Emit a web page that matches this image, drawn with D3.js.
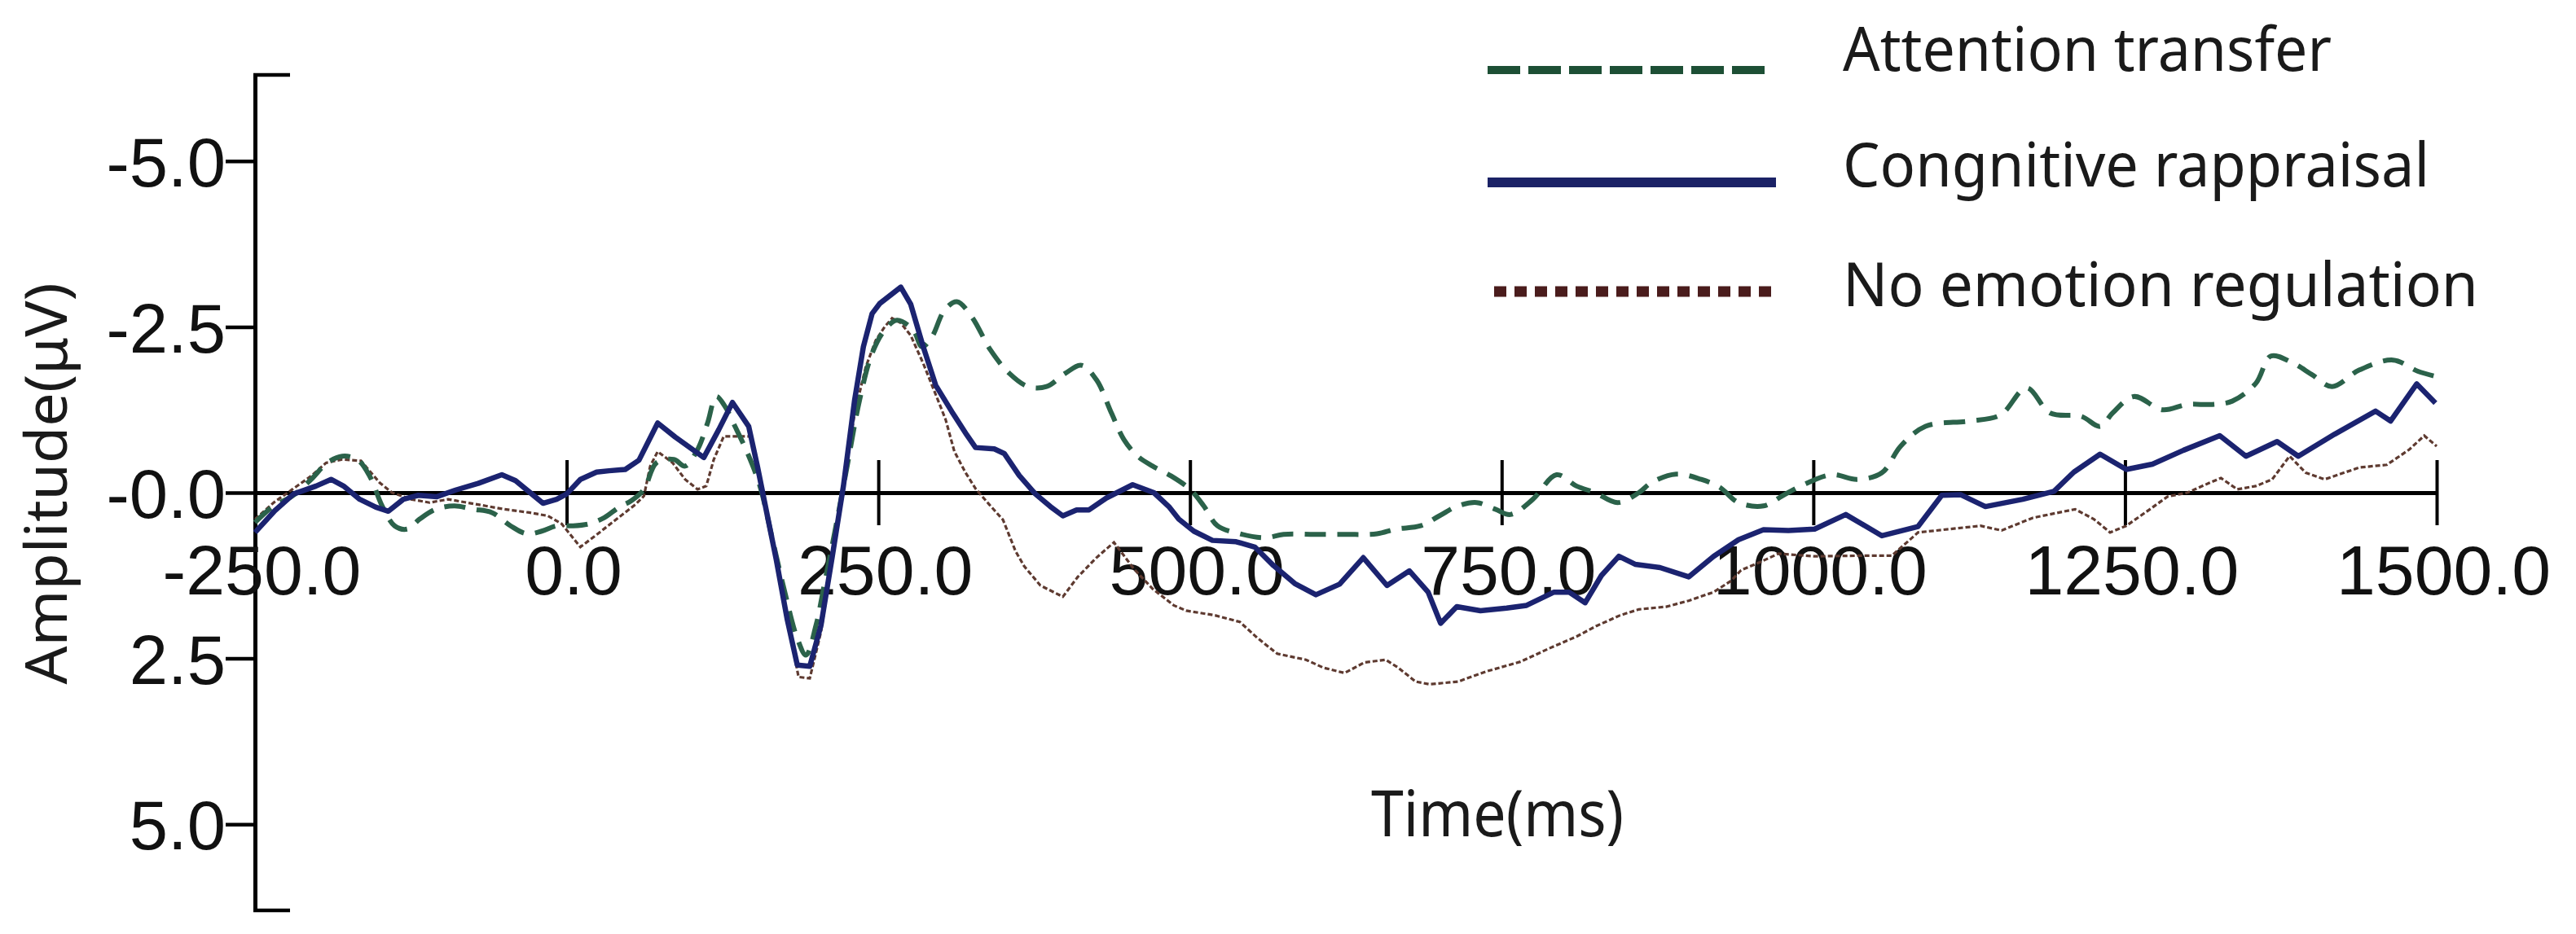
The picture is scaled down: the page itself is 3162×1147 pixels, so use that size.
<!DOCTYPE html>
<html>
<head>
<meta charset="utf-8">
<script src="https://cdn.jsdelivr.net/npm/d3@7/dist/d3.min.js"></script>
<style>
html, body { margin: 0; padding: 0; background: #ffffff; }
svg { display: block; }
</style>
</head>
<body>
<svg id="chart" width="3162" height="1147"></svg>
<script>
// ---------- DATA ----------
const seriesNames = ["Attention transfer", "Congnitive rappraisal", "No emotion regulation"];

const xTicks = [-250, 0, 250, 500, 750, 1000, 1250, 1500];
const xTickLabels = ["-250.0", "0.0", "250.0", "500.0", "750.0", "1000.0", "1250.0", "1500.0"];
const yTicks = [-5, -2.5, 0, 2.5, 5];
const yTickLabels = ["-5.0", "-2.5", "-0.0", "2.5", "5.0"];

// Attention transfer (green dashed)
const attentionTime = [-250,-235,-220,-205,-192,-180,-168,-158,-148,-138,-128,-118,-105,-90,-75,-60,-45,-32,-20,-8,5,18,30,42,52,62,72,86,95,105,113,120,127,135,145,155,165,175,185,192,200,207,215,225,235,245,255,265,278,285,293,303,313,325,340,355,370,385,400,413,425,437,447,458,470,485,500,511,522,540,560,575,600,625,650,665,685,700,715,730,745,757,775,794,810,825,843,860,870,890,910,925,940,960,975,990,1015,1035,1055,1070,1090,1125,1150,1171,1190,1215,1230,1240,1257,1280,1300,1320,1336,1355,1367,1385,1400,1416,1438,1465,1485,1500];
const attentionValues = [0.45,0.2,0.05,-0.2,-0.45,-0.55,-0.5,-0.25,0.2,0.5,0.55,0.4,0.25,0.2,0.25,0.3,0.5,0.62,0.58,0.5,0.5,0.47,0.38,0.22,0.12,-0.05,-0.45,-0.5,-0.4,-0.65,-1.05,-1.45,-1.3,-1.0,-0.6,-0.1,0.7,1.5,2.2,2.45,2.0,1.35,0.6,-0.4,-1.4,-2.1,-2.45,-2.6,-2.45,-2.2,-2.35,-2.75,-2.88,-2.65,-2.15,-1.8,-1.6,-1.6,-1.8,-1.92,-1.7,-1.2,-0.8,-0.55,-0.4,-0.25,-0.05,0.2,0.5,0.62,0.68,0.63,0.63,0.63,0.62,0.55,0.5,0.35,0.2,0.15,0.25,0.33,0.1,-0.27,-0.1,0.0,0.15,0.0,-0.15,-0.28,-0.2,-0.08,0.15,0.2,0.05,-0.1,-0.27,-0.2,-0.3,-0.7,-1.0,-1.08,-1.17,-1.58,-1.2,-1.15,-1.0,-1.2,-1.45,-1.25,-1.33,-1.33,-1.38,-1.65,-2.06,-1.95,-1.78,-1.6,-1.85,-2.0,-1.83,-1.75];

// Congnitive rappraisal (navy solid)
const reappraisalTime = [-250,-234,-219,-201,-189,-179,-166,-153,-143,-131,-119,-104,-89,-71,-52,-41,-28,-19,-8,0,11,24,34,47,58,73,87,110,122,133,146,153,161,168,177,185,195,204,213,222,231,238,245,251,268,276,286,296,309,321,328,343,351,363,376,388,398,409,419,433,454,471,483,491,503,518,537,552,567,584,601,620,639,658,676,691,701,714,733,754,770,792,804,817,830,844,857,877,900,920,940,960,980,1001,1026,1055,1084,1103,1118,1138,1168,1193,1209,1230,1251,1272,1297,1326,1347,1372,1389,1418,1451,1463,1484,1499];
const reappraisalValues = [0.6,0.27,0.02,-0.1,-0.2,-0.1,0.1,0.22,0.28,0.1,0.04,0.06,-0.04,-0.14,-0.27,-0.18,0.02,0.16,0.1,0.02,-0.2,-0.31,-0.33,-0.35,-0.49,-1.05,-0.84,-0.53,-0.95,-1.36,-1.0,-0.4,0.35,1.0,1.92,2.6,2.62,2.0,0.97,-0.1,-1.4,-2.2,-2.7,-2.85,-3.1,-2.84,-2.2,-1.62,-1.22,-0.87,-0.68,-0.66,-0.59,-0.26,0.02,0.21,0.35,0.26,0.26,0.08,-0.12,0.0,0.21,0.4,0.58,0.72,0.74,0.82,1.1,1.37,1.54,1.38,0.98,1.4,1.18,1.5,1.97,1.72,1.78,1.74,1.7,1.5,1.5,1.66,1.25,0.96,1.08,1.13,1.27,0.96,0.71,0.56,0.57,0.55,0.33,0.65,0.51,0.04,0.03,0.21,0.1,-0.02,-0.31,-0.58,-0.35,-0.43,-0.64,-0.86,-0.55,-0.77,-0.55,-0.88,-1.23,-1.08,-1.64,-1.35];

// No emotion regulation (brown dotted)
const noRegulationTime = [-250,-235,-220,-205,-193,-180,-165,-150,-140,-125,-110,-95,-80,-65,-50,-30,-15,-4,11,25,40,55,62,67,73,85,95,105,112,118,126,147,153,161,168,177,186,195,204,213,222,231,240,248,255,261,268,276,286,299,304,311,320,328,339,350,360,367,380,398,410,425,439,455,470,487,497,520,540,554,570,593,607,624,640,657,667,681,692,715,737,765,788,810,826,845,860,882,900,920,934,942,957,972,1001,1040,1063,1084,1109,1134,1151,1176,1210,1225,1238,1251,1270,1284,1300,1318,1327,1340,1355,1368,1382,1395,1410,1438,1460,1478,1490,1500];
const noRegulationValues = [0.4,0.15,-0.05,-0.25,-0.45,-0.5,-0.48,-0.15,0.0,0.1,0.15,0.1,0.15,0.2,0.25,0.3,0.35,0.47,0.82,0.62,0.4,0.18,0.05,-0.4,-0.62,-0.45,-0.2,-0.05,-0.1,-0.5,-0.85,-0.85,-0.4,0.35,1.0,1.9,2.78,2.8,2.1,1.0,-0.1,-1.2,-1.9,-2.3,-2.5,-2.63,-2.56,-2.37,-1.95,-1.34,-1.1,-0.62,-0.3,-0.06,0.18,0.41,0.88,1.11,1.4,1.57,1.27,0.98,0.75,1.15,1.45,1.7,1.78,1.85,1.95,2.19,2.43,2.52,2.64,2.72,2.56,2.52,2.64,2.85,2.89,2.85,2.7,2.55,2.35,2.17,2.01,1.85,1.76,1.72,1.63,1.5,1.33,1.17,1.05,0.92,0.96,0.95,0.95,0.6,0.55,0.5,0.57,0.38,0.25,0.4,0.6,0.5,0.25,0.06,0.0,-0.15,-0.22,-0.05,-0.1,-0.2,-0.55,-0.3,-0.2,-0.38,-0.42,-0.65,-0.86,-0.7];

// ---------- DRAWING ----------
const svg = d3.select("#chart");
svg.append("rect").attr("width", 3162).attr("height", 1147).attr("fill", "#ffffff");

const x = d3.scaleLinear().domain([-250, 1500]).range([313, 2991]);
const y = d3.scaleLinear().domain([-6.3, 6.3]).range([92, 1118]);

const tickFont = "'Liberation Sans', Arial, sans-serif";
const labelFont = "'Noto Sans', 'Open Sans', sans-serif";

// Y axis
const yAxis = svg.append("g")
  .attr("transform", "translate(313,0)")
  .attr("color", "#000")
  .call(d3.axisLeft(y).tickValues(yTicks).tickSize(36).tickSizeOuter(0).tickPadding(0)
        .tickFormat((d, i) => yTickLabels[i]));
yAxis.select(".domain").attr("stroke-width", 5);
yAxis.selectAll(".tick line").attr("stroke-width", 4.5);
yAxis.selectAll(".tick text")
  .attr("font-family", tickFont).attr("font-size", 85).attr("fill", "#111")
  .attr("dy", "0.36em");
// bracket ends of the y axis
[y.domain()[0], y.domain()[1]].forEach(v => {
  svg.append("line").attr("x1", 311).attr("x2", 356).attr("y1", y(v)).attr("y2", y(v))
    .attr("stroke", "#000").attr("stroke-width", 4.5);
});

// X axis (crosses at 0)
const xAxis = svg.append("g")
  .attr("transform", `translate(0,${y(0)})`)
  .attr("color", "#000")
  .call(d3.axisBottom(x).tickValues(xTicks).tickSize(38).tickSizeOuter(0)
        .tickFormat((d, i) => xTickLabels[i]));
xAxis.select(".domain").attr("stroke-width", 5);
xAxis.selectAll(".tick line").attr("y1", -40).attr("y2", 40).attr("stroke-width", 4);
xAxis.selectAll(".tick text")
  .attr("font-family", tickFont).attr("font-size", 86).attr("fill", "#111")
  .attr("y", 125).attr("dy", 0).attr("dx", 8);

// Series lines
const line = d3.line()
  .x(d => x(d[0]))
  .y(d => y(d[1]))
  .curve(d3.curveCatmullRom.alpha(0.5));
const lineSharp = d3.line()
  .x(d => x(d[0]))
  .y(d => y(d[1]))
  .curve(d3.curveLinear);

const noRegData = d3.zip(noRegulationTime, noRegulationValues);
const attData = d3.zip(attentionTime, attentionValues);
const reaData = d3.zip(reappraisalTime, reappraisalValues);

svg.append("path").datum(noRegData)
  .attr("d", lineSharp).attr("fill", "none")
  .attr("stroke", "#5e3a30").attr("stroke-width", 3.2)
  .attr("stroke-dasharray", "6,3");

svg.append("path").datum(attData)
  .attr("d", line).attr("fill", "none")
  .attr("stroke", "#2b624a").attr("stroke-width", 6)
  .attr("stroke-dasharray", "26,14");

svg.append("path").datum(reaData)
  .attr("d", lineSharp).attr("fill", "none")
  .attr("stroke", "#1b2370").attr("stroke-width", 6.5)
  .attr("stroke-linejoin", "round");

// Legend
const legendItems = [
  { name: seriesNames[0], color: "#1d4f35", width: 10, dash: "40,10", x1: 1826, x2: 2174, ly: 86, ty: 87, tl: 600 },
  { name: seriesNames[1], color: "#1b2266", width: 12, dash: null, x1: 1826, x2: 2180, ly: 224, ty: 229, tl: 720 },
  { name: seriesNames[2], color: "#4a1c1c", width: 13, dash: "15,10", x1: 1834, x2: 2180, ly: 358, ty: 376, tl: 780 }
];
legendItems.forEach(it => {
  const l = svg.append("line")
    .attr("x1", it.x1).attr("x2", it.x2).attr("y1", it.ly).attr("y2", it.ly)
    .attr("stroke", it.color).attr("stroke-width", it.width);
  if (it.dash) l.attr("stroke-dasharray", it.dash);
  svg.append("text")
    .attr("x", 2262).attr("y", it.ty)
    .attr("font-family", labelFont).attr("font-size", 74).attr("fill", "#1a1a1a")
    .attr("textLength", it.tl).attr("lengthAdjust", "spacingAndGlyphs")
    .text(it.name);
});

// Axis titles
svg.append("text")
  .attr("transform", "translate(82,594) rotate(-90)")
  .attr("text-anchor", "middle")
  .attr("font-family", labelFont).attr("font-size", 72).attr("fill", "#1a1a1a")
  .attr("textLength", 493).attr("lengthAdjust", "spacingAndGlyphs")
  .text("Amplitude(μV)");

svg.append("text")
  .attr("x", 1683).attr("y", 1027)
  .attr("font-family", labelFont).attr("font-size", 78).attr("fill", "#1a1a1a")
  .attr("textLength", 310).attr("lengthAdjust", "spacingAndGlyphs")
  .text("Time(ms)");
</script>
</body>
</html>
